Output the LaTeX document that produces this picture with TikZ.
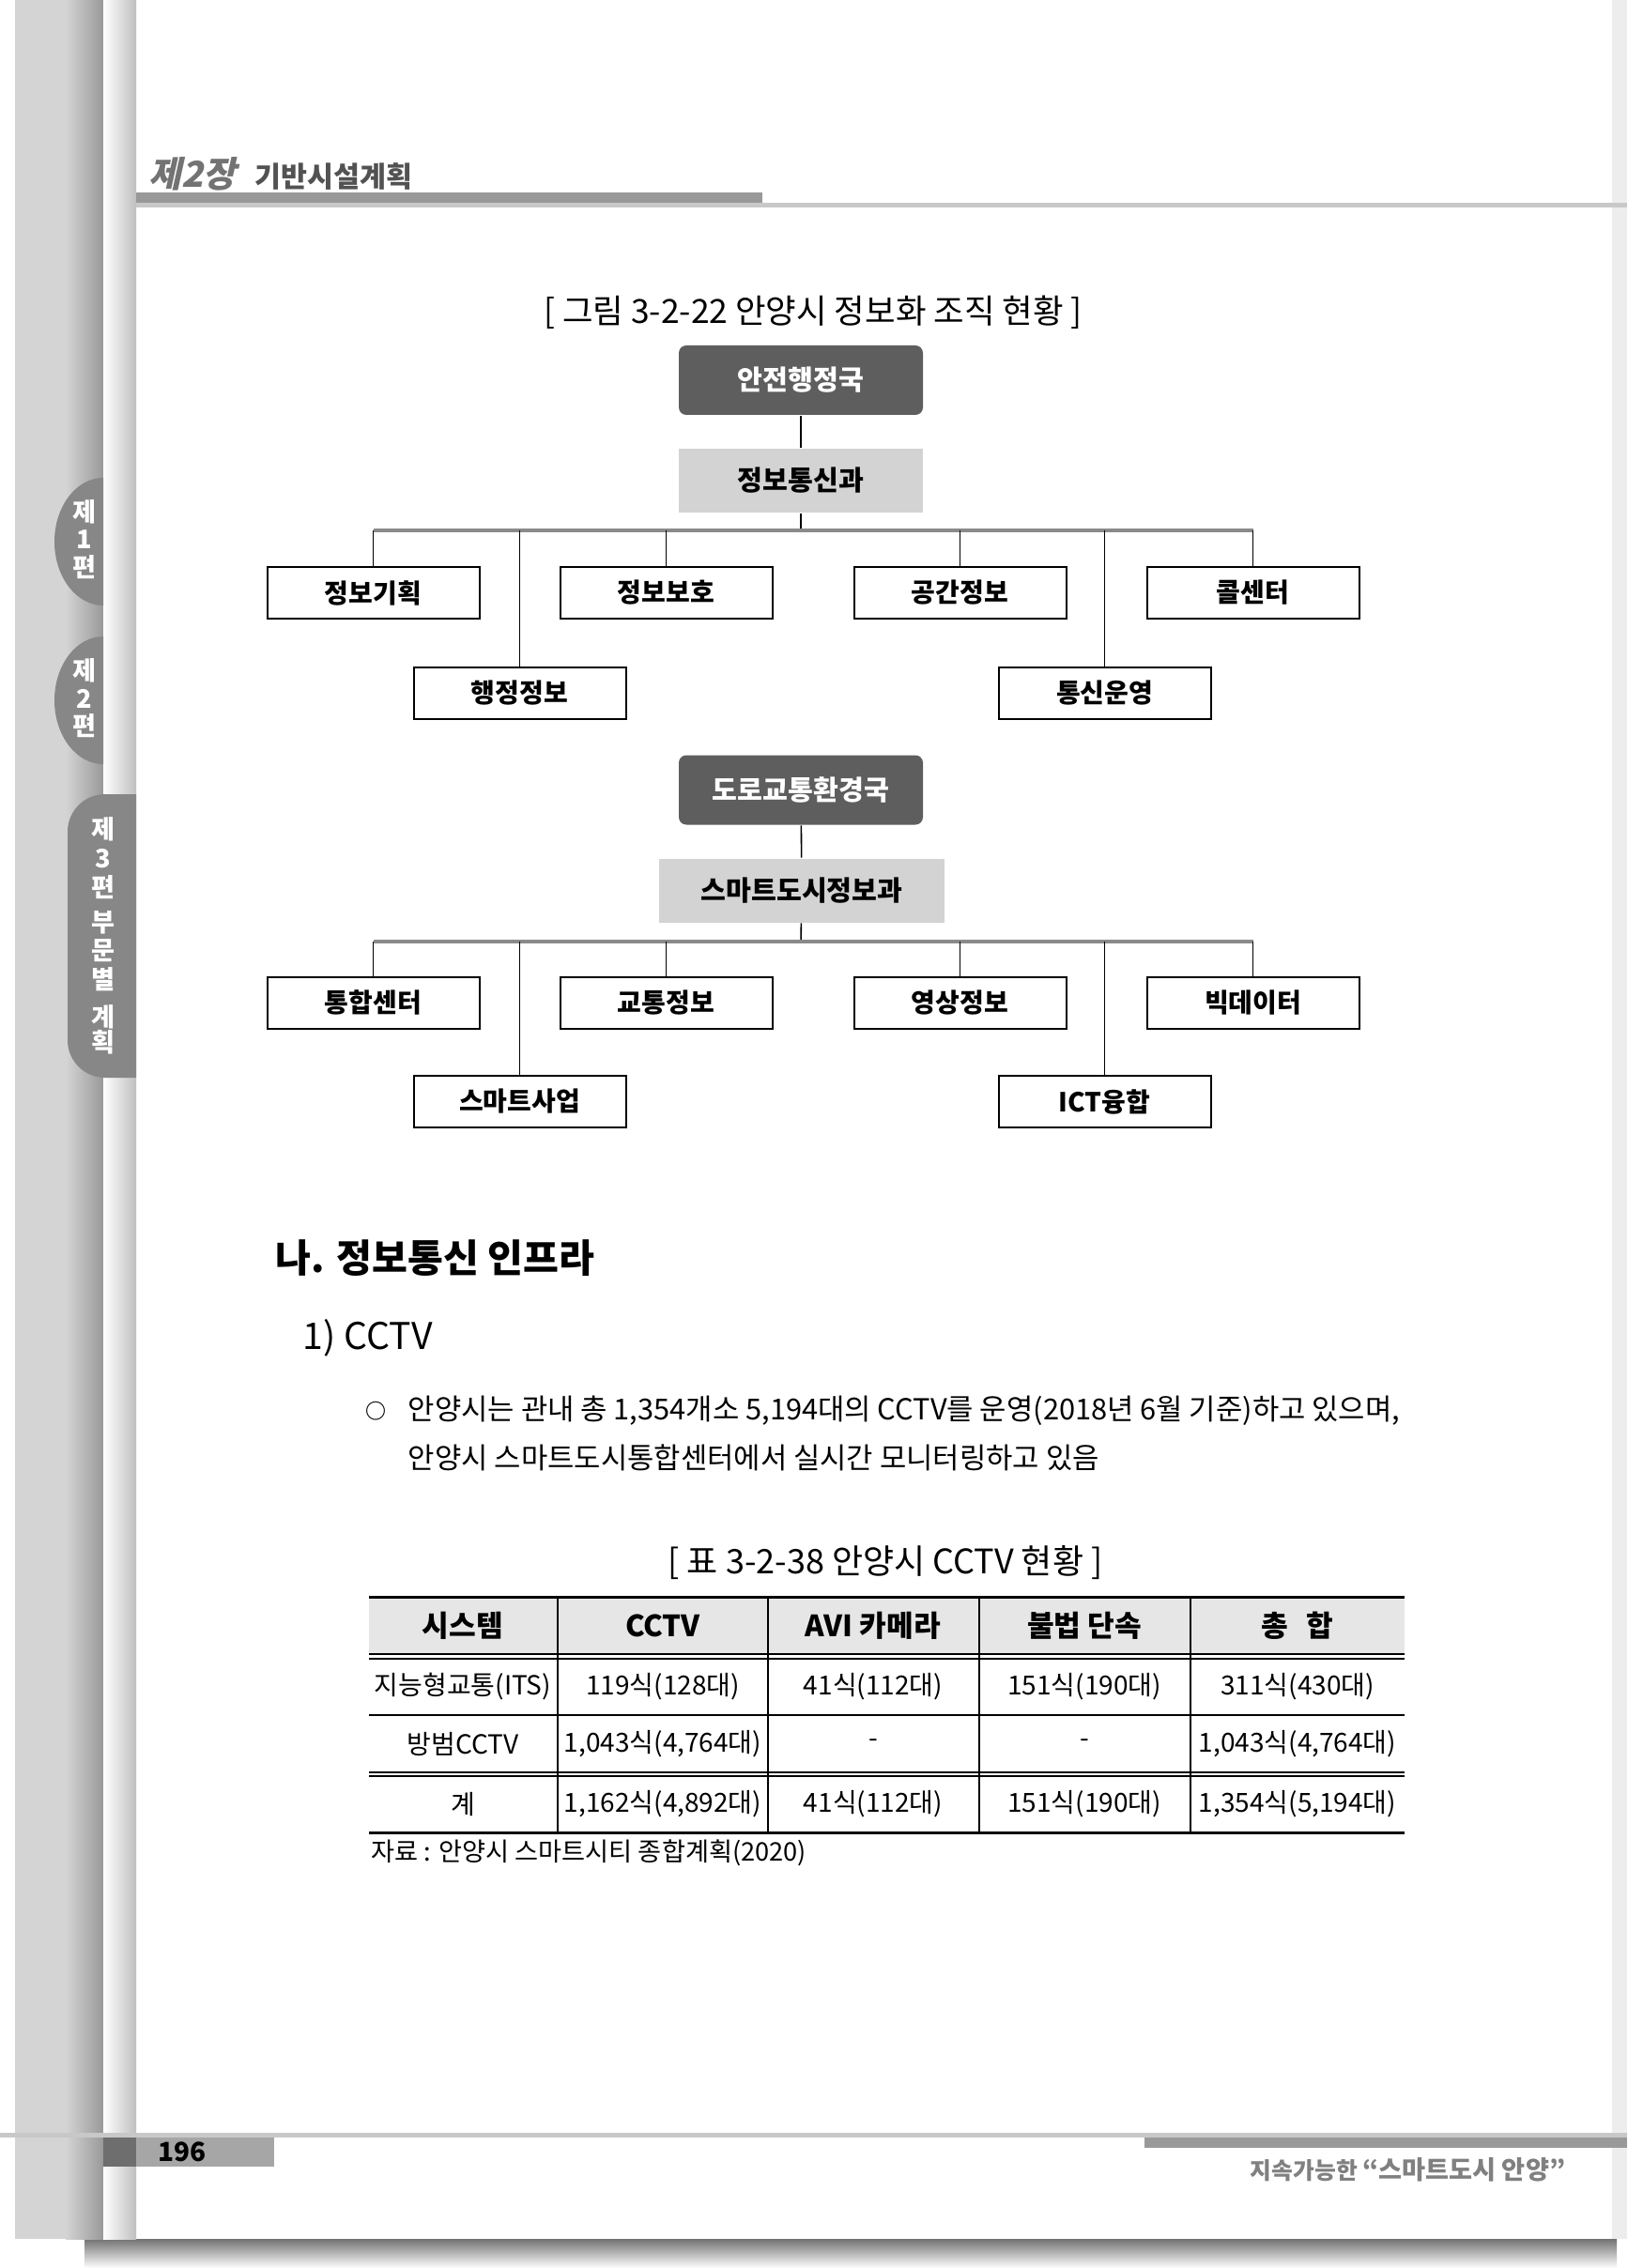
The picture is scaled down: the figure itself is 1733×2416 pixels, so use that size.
\documentclass[tikz,border=0pt]{standalone}
\usepackage{fontspec}
\setmainfont{Noto Sans CJK KR}
\newfontfamily\slantfont[FakeSlant=0.22]{Noto Sans CJK KR}
\usepackage{tikz}

\definecolor{stripgray}{HTML}{D4D4D4}
\definecolor{tabgray}{HTML}{878787}
\definecolor{chiefgray}{HTML}{5E5E5E}
\definecolor{deptgray}{HTML}{D3D3D3}
\definecolor{headgray}{HTML}{E6E6E6}
\definecolor{rulegray}{HTML}{C8C8C8}
\definecolor{bargray}{HTML}{999999}

\begin{document}
\begin{tikzpicture}[
    x=0.25pt, y=-0.25pt,
    chief/.style={fill=chiefgray, rounded corners=2pt, text=white, inner sep=0pt,
        minimum width=65pt, minimum height=18.5pt, font=\fontsize{7.3}{8}\selectfont\bfseries},
    dept/.style={fill=deptgray, inner sep=0pt, minimum height=17pt,
        font=\fontsize{7.3}{8}\selectfont\bfseries},
    team/.style={draw, line width=0.5pt, inner sep=0pt, minimum width=56.5pt,
        minimum height=13.75pt, font=\fontsize{7}{8}\selectfont\bfseries},
    link/.style={line width=0.4pt},
    bus/.style={line width=0.8pt, draw=bargray!90!black},
    tabtxt/.style={text=white, inner sep=0pt, font=\fontsize{6.8}{7}\selectfont\bfseries},
    body/.style={anchor=west, inner sep=0pt, font=\fontsize{7.7}{8}\selectfont},
    hcell/.style={inner sep=0pt, font=\fontsize{7.8}{8}\selectfont\bfseries},
    cell/.style={inner sep=0pt, font=\fontsize{7}{8}\selectfont},
    thinrule/.style={line width=0.3pt},
    thickrule/.style={line width=0.75pt}
]
\useasboundingbox (0,0) rectangle (1733,2416);
% --- page and binding edge ---
\fill[white] (0,0) rectangle (1733,2416);
\shade[top color=black!55, bottom color=white] (90,2385) rectangle (1722,2416);
\fill[stripgray] (16,0) rectangle (110,2385);
\shade[left color=stripgray, right color=black!40] (70,0) rectangle (110,2385);
\shade[left color=white, right color=black!25] (110,0) rectangle (145,2385);
\fill[black!7] (1717,0) rectangle (1733,2385);

% --- running head ---
\node[inner sep=0pt, text=black!55, font=\fontsize{9.5}{10}\slantfont\bfseries] (chapno) at (205,185) {제2장};
\node[anchor=west, inner sep=0pt, text=black!68, font=\fontsize{7.6}{8}\selectfont\bfseries] (chapttl) at (271,188) {기반시설계획};
\fill[bargray] (145,205) rectangle (812,216);
\fill[rulegray] (145,216) rectangle (1733,221);

% --- side tabs ---
\begin{scope}
    \clip (0,0) rectangle (110,2416);
    \fill[tabgray] (110,577) ellipse (52 and 68);
    \fill[tabgray] (110,746) ellipse (52 and 68);
\end{scope}
\begin{scope}
    \clip (0,0) rectangle (145,2416);
    \fill[tabgray, rounded corners=10pt] (72,846) rectangle (220,1148);
\end{scope}
\foreach \ch/\y [count=\k] in {제/545, 1/575, 편/604}
    \node[tabtxt] (tabA\k) at (90,\y) {\ch};
\foreach \ch/\y [count=\k] in {제/714, 2/744, 편/773}
    \node[tabtxt] (tabB\k) at (90,\y) {\ch};
\foreach \ch/\y [count=\k] in {제/883, 3/915, 편/945, 부/983, 문/1013, 별/1043, 계/1083, 획/1110}
    \node[tabtxt] (tabC\k) at (110,\y) {\ch};

% --- figure caption ---
\node[inner sep=0pt, font=\fontsize{8.85}{9}\selectfont] (figcap) at (866,333) {[ 그림 3-2-22 안양시 정보화 조직 현황 ]};

% --- chart A ---
\node[chief] (chiefA) at (853,405) {안전행정국};
\node[dept, minimum width=65pt] (deptA) at (853,512) {정보통신과};
\coordinate (hubA) at (853,565);
\foreach \i/\x/\y/\lbl in {1/397.5/631.5/정보기획, 2/553.5/738/행정정보, 3/709.5/631.5/정보보호,
                           4/1022.5/631.5/공간정보, 5/1176.5/738/통신운영, 6/1334.5/631.5/콜센터}
    \node[team] (tA\i) at (\x,\y) {\lbl};
\draw[link] (chiefA) -- (deptA);
\draw[link] (deptA) -- (hubA);
\draw[bus] (tA1.north |- hubA) -- (tA6.north |- hubA);
\foreach \i in {1,...,6}
    \draw[link] (tA\i.north |- hubA) -- (tA\i);

% --- chart B ---
\node[chief] (chiefB) at (853,841.5) {도로교통환경국};
\node[dept, minimum width=76pt] (deptB) at (854,948.5) {스마트도시정보과};
\coordinate (hubB) at (853,1003);
\foreach \i/\x/\y/\lbl in {1/397.5/1068/통합센터, 2/553.5/1173.5/스마트사업, 3/709.5/1068/교통정보,
                           4/1022.5/1068/영상정보, 5/1176.5/1173.5/ICT융합, 6/1334.5/1068/빅데이터}
    \node[team] (tB\i) at (\x,\y) {\lbl};
\draw[link] (chiefB) -- (deptB);
\draw[link] (deptB) -- (hubB);
\draw[bus] (tB1.north |- hubB) -- (tB6.north |- hubB);
\foreach \i in {1,...,6}
    \draw[link] (tB\i.north |- hubB) -- (tB\i);

% --- section text ---
\node[anchor=west, inner sep=0pt, font=\fontsize{10.3}{11}\selectfont\bfseries] (secttl) at (293,1340) {나. 정보통신 인프라};
\node[anchor=west, inner sep=0pt, font=\fontsize{9.8}{10}\selectfont] (subttl) at (322,1425) {1) CCTV};
\node[inner sep=0pt, font=\fontsize{5.5}{6}\selectfont\bfseries] (bul) at (400,1503) {○};
\node[body] (para1) at (434,1503) {안양시는 관내 총 1,354개소 5,194대의 CCTV를 운영(2018년 6월 기준)하고 있으며,};
\node[body] (para2) at (434,1553) {안양시 스마트도시통합센터에서 실시간 모니터링하고 있음};

% --- table ---
\node[inner sep=0pt, font=\fontsize{9}{10}\selectfont] (tblcap) at (943,1665) {[ 표 3-2-38 안양시 CCTV 현황 ]};
\fill[headgray] (393,1701) rectangle (1496,1762);
\draw[thickrule] (393,1701) -- (1496,1701);
\foreach \y in {1762,1767,1827,1888,1892}
    \draw[thinrule] (393,\y) -- (1496,\y);
\draw[thickrule] (393,1952) -- (1496,1952);
\foreach \x in {594,818,1043,1268}
    \draw[thinrule] (\x,1701) -- (\x,1952);
\foreach \x/\txt [count=\c] in {493/시스템, 706/CCTV, 930/AVI 카메라, 1155/불법 단속, 1382/{총\hspace{0.6em}합}}
    \node[hcell] (hd\c) at (\x,1732) {\txt};
\foreach \x/\txt [count=\c] in {493/{지능형교통(ITS)}, 706/{119식(128대)}, 930/{41식(112대)}, 1155/{151식(190대)}, 1382/{311식(430대)}}
    \node[cell] (ra\c) at (\x,1797) {\txt};
\foreach \x/\txt [count=\c] in {493/{방범CCTV}, 706/{1,043식(4,764대)}, 930/{-}, 1155/{-}, 1382/{1,043식(4,764대)}}
    \node[cell] (rb\c) at (\x,1857.5) {\txt};
\foreach \x/\txt [count=\c] in {493/{계}, 706/{1,162식(4,892대)}, 930/{41식(112대)}, 1155/{151식(190대)}, 1382/{1,354식(5,194대)}}
    \node[cell] (rc\c) at (\x,1922) {\txt};
\node[anchor=west, inner sep=0pt, font=\fontsize{6.8}{7}\selectfont] (tblsrc) at (395,1974) {자료 : 안양시 스마트시티 종합계획(2020)};

% --- page foot ---
\fill[rulegray] (0,2272) rectangle (1733,2277);
\fill[black!57] (110,2277) rectangle (145,2308);
\fill[black!35] (145,2277) rectangle (292,2308);
\node[inner sep=0pt, font=\fontsize{7}{8}\selectfont\bfseries] (pageno) at (194,2292) {196};
\fill[bargray] (1219,2277) rectangle (1733,2288);
\node[anchor=east, inner sep=0pt, text=black!50, font=\fontsize{6.2}{7}\selectfont\bfseries] (foottxt) at (1668,2311)
    {지속가능한 {\fontsize{6.8}{7}\selectfont “스마트도시 안양”}};
\end{tikzpicture}
\end{document}
